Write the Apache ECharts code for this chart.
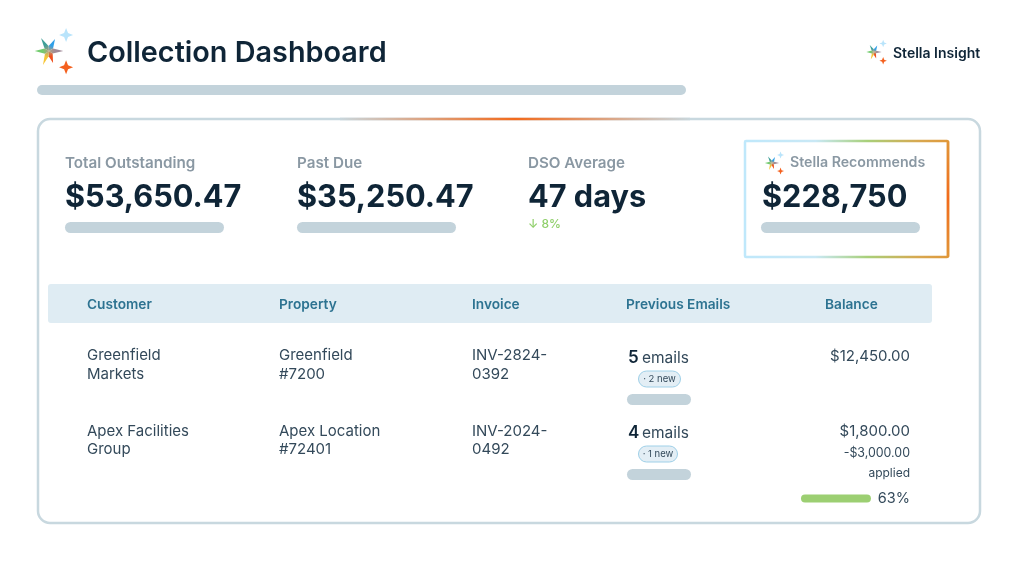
<!DOCTYPE html>
<html><head><meta charset="utf-8">
<style>html,body{margin:0;padding:0;background:#fff}#c{width:1024px;height:568px}</style>
<script src="https://cdn.jsdelivr.net/npm/echarts@6/dist/echarts.min.js"></script>
</head><body><div id="c"></div>
<script>
const title = 'Collection Dashboard';
const brand = 'Stella Insight';
const kpiLabels = ['Total Outstanding','Past Due','DSO Average','Stella Recommends'];
const kpiValues = ['$53,650.47','$35,250.47','47 days','$228,750'];
const dsoDelta = '↓ 8%';
const columns = ['Customer','Property','Invoice','Previous Emails','Balance'];
const customers = [['Greenfield','Markets'],['Apex Facilities','Group']];
const properties = [['Greenfield','#7200'],['Apex Location','#72401']];
const invoices = [['INV-2824-','0392'],['INV-2024-','0492']];
const emailCounts = ['5','4'];
const newBadges = ['· 2 new','· 1 new'];
const balances = ['$12,450.00','$1,800.00'];
const applied = ['-$3,000.00','applied'];
const progress = [63];

const F = 'Inter, "Noto Sans", sans-serif';
const INK='#0f2537', BODY='#33495a', GREY='#8a98a3', TEAL='#2d7391', SK='#c3d3db';
const chart = echarts.init(document.getElementById('c'),null,{renderer:'canvas'});
const g=[];
const T=(x,y,text,size,fill,weight,align)=>g.push({type:'text',x,y,style:{text,font:`${weight||400} ${size}px ${F}`,fill,align:align||'left',verticalAlign:'middle'}});
const R=(x,y,w,h,r,fill,stroke,lw)=>g.push({type:'rect',shape:{x,y,width:w,height:h,r},style:{fill:fill||'transparent',stroke:stroke||null,lineWidth:lw||0}});
const LG=(x,y,x2,y2,stops,global)=>new echarts.graphic.LinearGradient(x,y,x2,y2,stops.map(c=>({offset:c[0],color:c[1]})),global);
const star4=(cx,cy,r,fill)=>{const k=r*0.28;g.push({type:'polygon',shape:{points:[[cx,cy-r],[cx+k,cy-k],[cx+r,cy],[cx+k,cy+k],[cx,cy+r],[cx-k,cy+k],[cx-r,cy],[cx-k,cy-k]]},style:{fill}});};
const tips=[[-.57,-.93,'#3f9f98'],[.43,-.86,'#2f9fe8'],[1.02,0,'#a08a98'],[.29,.86,'#f0501e'],[-.43,1,'#f6c536'],[-1.02,0,'#72cc6e']];
const logo=(cx,cy,s)=>{
  tips.forEach((t,i)=>{
    const p=tips[(i+5)%6], n=tips[(i+1)%6], m=.2;
    const mid=(a,b)=>[cx+(a[0]+b[0])*m*s,cy+(a[1]+b[1])*m*s];
    const tx=cx+t[0]*s, ty=cy+t[1]*s;
    g.push({type:'polygon',shape:{points:[[cx,cy],mid(p,t),[tx,ty],mid(t,n)]},style:{fill:LG(cx,cy,tx,ty,[[0,'#b0a080'],[.45,t[2]],[1,t[2]]],true)}});
  });
  star4(cx+s*1.22,cy-s*1.14,s*.5,'#b9e4fb');
  star4(cx+s*1.22,cy+s*1.16,s*.5,'#f4601e');
};
// header
logo(49,51,14);
T(87,53,title,28.8,INK,600);
logo(874,52,7.5);
T(893,54,brand,14,INK,600);
R(37,85,649,10,5,SK);
// main card
g.push({type:'rect',shape:{x:38,y:119,width:942,height:404,r:12},style:{fill:'#fff',lineWidth:2.5,stroke:'#c8d8df'}});
g.push({type:'line',shape:{x1:340,y1:119,x2:690,y2:119},style:{lineWidth:2.5,stroke:LG(0,0,1,0,[[0,'#c8d8df'],[.5,'#f26a1c'],[1,'#c8d8df']])}});
// KPI
const kx=[65,297,528];
kx.forEach((x,i)=>{T(x,163,kpiLabels[i],15.2,GREY,600);T(x,198,kpiValues[i],30.7,INK,700);});
R(65,222,159,11,5.5,SK);R(297,222,159,11,5.5,SK);
T(528,224,dsoDelta,12,'#8fcf6a',500);
// recommends box
g.push({type:'rect',shape:{x:745,y:141,width:203,height:116,r:1},style:{fill:'#fff',lineWidth:2.5,stroke:LG(0,0,1,0,[[0,'#bfe8fb'],[.35,'#c9e8f5'],[.6,'#a8d07a'],[.85,'#d8a850'],[1,'#e0983a']])}});
g.push({type:'line',shape:{x1:948,y1:141,x2:948,y2:257},style:{lineWidth:2.5,stroke:LG(0,0,0,1,[[0,'#e0983a'],[.5,'#f26a1c'],[1,'#e0983a']])}});
logo(772,163,7);
T(790,163,kpiLabels[3],14.2,GREY,600);
T(762,198,kpiValues[3],30.7,INK,700);
R(761,222,159,11,5.5,SK);
// table header
R(48,284,884,39,3,'#dfecf3');
[87,279,472,626,825].forEach((x,i)=>T(x,304.5,columns[i],13.7,TEAL,600));
// rows
[[355,374],[431,449]].forEach((ys,r)=>{
  [customers,properties,invoices].forEach((col,c)=>{
    const x=[87,279,472][c];
    col[r].forEach((line,i)=>T(x,ys[i],line,15,BODY,400));
  });
  const ey=[358,433][r];
  T(628,ey,emailCounts[r],17,INK,600);
  T(642,ey,'emails',15.5,BODY,400);
  const bw=[42,39][r];
  R(638.5,ey+13,bw,16,8,'#e3eef5','#9fd0e8',1);
  T(638.5+bw/2,ey+21,newBadges[r],9.5,BODY,400,'center');
  R(627,[394,469][r],64,11,5.5,SK);
});
T(910,356,balances[0],15,BODY,400,'right');
T(910,431,balances[1],15,BODY,400,'right');
T(910,453,applied[0],12.4,BODY,400,'right');
T(910,473,applied[1],12,BODY,400,'right');
T(910,499,progress[0]+'%',14.5,BODY,400,'right');

chart.setOption({
  animation:false,
  grid:{left:801,top:493,width:111,height:11},
  xAxis:{type:'value',min:0,max:100,show:false},
  yAxis:{type:'category',data:['Balance applied'],show:false},
  series:[{type:'bar',data:progress,barWidth:8,z:10,itemStyle:{color:'#9ccf72',borderRadius:4},silent:true}],
  graphic:{elements:g.map(e=>Object.assign({silent:true},e))}
});
</script></body></html>
